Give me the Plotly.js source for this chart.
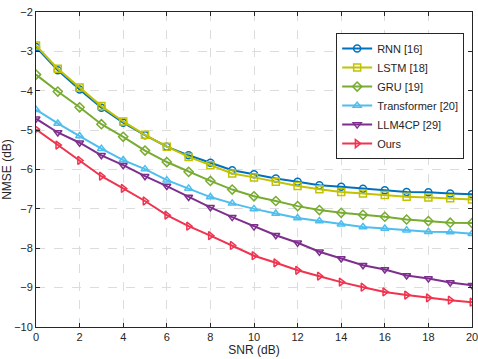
<!DOCTYPE html>
<html>
<head>
<meta charset="utf-8">
<script src="https://cdn.plot.ly/plotly-3.0.1.min.js"></script>
<style>
  html, body { margin: 0; padding: 0; background: #ffffff; }
  #nmse_chart { width: 478px; height: 359px; }
</style>
</head>
<body>
<div id="nmse_chart"></div>
<script>
//--------------------------------------- datos - start -----------------------------------------------
var snr = [0, 1, 2, 3, 4, 5, 6, 7, 8, 9, 10, 11, 12, 13, 14, 15, 16, 17, 18, 19, 20];

var nmse_rnn = [-2.89, -3.48, -3.97, -4.43, -4.81, -5.13, -5.42, -5.64, -5.83, -6.02, -6.12,
                -6.23, -6.31, -6.40, -6.44, -6.49, -6.53, -6.57, -6.58, -6.61, -6.63];
var nmse_lstm = [-2.85, -3.44, -3.92, -4.39, -4.78, -5.12, -5.42, -5.68, -5.89, -6.10, -6.20,
                 -6.31, -6.42, -6.50, -6.57, -6.61, -6.65, -6.69, -6.71, -6.73, -6.76];
var nmse_gru = [-3.59, -4.02, -4.42, -4.85, -5.17, -5.52, -5.81, -6.06, -6.29, -6.51, -6.68,
                -6.80, -6.93, -7.03, -7.10, -7.15, -7.20, -7.27, -7.31, -7.35, -7.36];
var nmse_transformer = [-4.48, -4.83, -5.15, -5.47, -5.76, -5.99, -6.27, -6.48, -6.70, -6.86, -7.00,
                        -7.12, -7.23, -7.31, -7.39, -7.46, -7.50, -7.54, -7.58, -7.59, -7.63];
var nmse_llm4cp = [-4.71, -5.06, -5.32, -5.64, -5.89, -6.17, -6.42, -6.70, -6.96, -7.21, -7.45,
                   -7.67, -7.86, -8.09, -8.26, -8.43, -8.54, -8.69, -8.77, -8.87, -8.94];
var nmse_ours = [-4.98, -5.38, -5.77, -6.17, -6.48, -6.80, -7.16, -7.44, -7.68, -7.93, -8.19,
                 -8.37, -8.56, -8.71, -8.86, -8.99, -9.11, -9.19, -9.26, -9.32, -9.37];

var series_names = ['RNN [16]', 'LSTM [18]', 'GRU [19]', 'Transformer [20]', 'LLM4CP [29]', 'Ours'];
var x_ticks = [0, 2, 4, 6, 8, 10, 12, 14, 16, 18, 20];
var y_ticks = [-10, -9, -8, -7, -6, -5, -4, -3, -2];
//--------------------------------------- datos - end -----------------------------------------------

var config = {
    displayModeBar: false,
    displaylogo: false,
    staticPlot: true
};

var chart_font = {
  family: "'Liberation Sans', Arial, sans-serif",
  size: 11,
  color: '#262626'
};

var title_font = {
  family: "'Liberation Sans', Arial, sans-serif",
  size: 12,
  color: '#262626'
};

function make_trace(y, name, color, symbol) {
  return {
    x: snr,
    y: y,
    type: 'scatter',
    mode: 'lines+markers',
    name: name,
    line: { width: 2, color: color },
    marker: {
      symbol: symbol,
      size: 7,
      color: color,
      line: { width: 1.5, color: color }
    }
  };
}

var data_nmse = [
  make_trace(nmse_rnn, series_names[0], '#0072BD', 'circle-open'),
  make_trace(nmse_lstm, series_names[1], '#C2C200', 'square-open'),
  make_trace(nmse_gru, series_names[2], '#77AC30', 'diamond-open'),
  make_trace(nmse_transformer, series_names[3], '#4DBEEE', 'triangle-up-open'),
  make_trace(nmse_llm4cp, series_names[4], '#7E2F8E', 'triangle-down-open'),
  make_trace(nmse_ours, series_names[5], '#F0334E', 'triangle-right-open')
];

var layout_nmse = {
  width: 478,
  height: 359,
  margin: { t: 12, r: 6, l: 36, b: 32 },
  paper_bgcolor: '#ffffff',
  plot_bgcolor: '#ffffff',
  font: chart_font,
  showlegend: true,
  xaxis: {
    title: { text: 'SNR (dB)', font: title_font, standoff: 3 },
    range: [0, 20],
    tickvals: x_ticks,
    ticks: 'inside',
    ticklen: 4,
    tickcolor: '#262626',
    ticklabeloverflow: 'allow',
    showline: true,
    linecolor: '#262626',
    linewidth: 1,
    mirror: 'ticks',
    showgrid: true,
    gridcolor: '#dcdcdc',
    griddash: 'dash',
    gridwidth: 1,
    zeroline: false,
    tickfont: chart_font
  },
  yaxis: {
    title: { text: 'NMSE (dB)', font: title_font, standoff: 6 },
    range: [-10, -2],
    tickvals: y_ticks,
    ticks: 'inside',
    ticklen: 4,
    tickcolor: '#262626',
    ticklabeloverflow: 'allow',
    showline: true,
    linecolor: '#262626',
    linewidth: 1,
    mirror: 'ticks',
    showgrid: true,
    gridcolor: '#dcdcdc',
    griddash: 'dash',
    gridwidth: 1,
    zeroline: false,
    tickfont: chart_font
  },
  legend: {
    x: 0.982,
    y: 0.933,
    xanchor: 'right',
    yanchor: 'top',
    bgcolor: '#ffffff',
    bordercolor: '#262626',
    borderwidth: 1,
    font: chart_font,
    itemwidth: 30,
    tracegroupgap: 0
  }
};

Plotly.newPlot('nmse_chart', data_nmse, layout_nmse, config);
</script>
</body>
</html>
